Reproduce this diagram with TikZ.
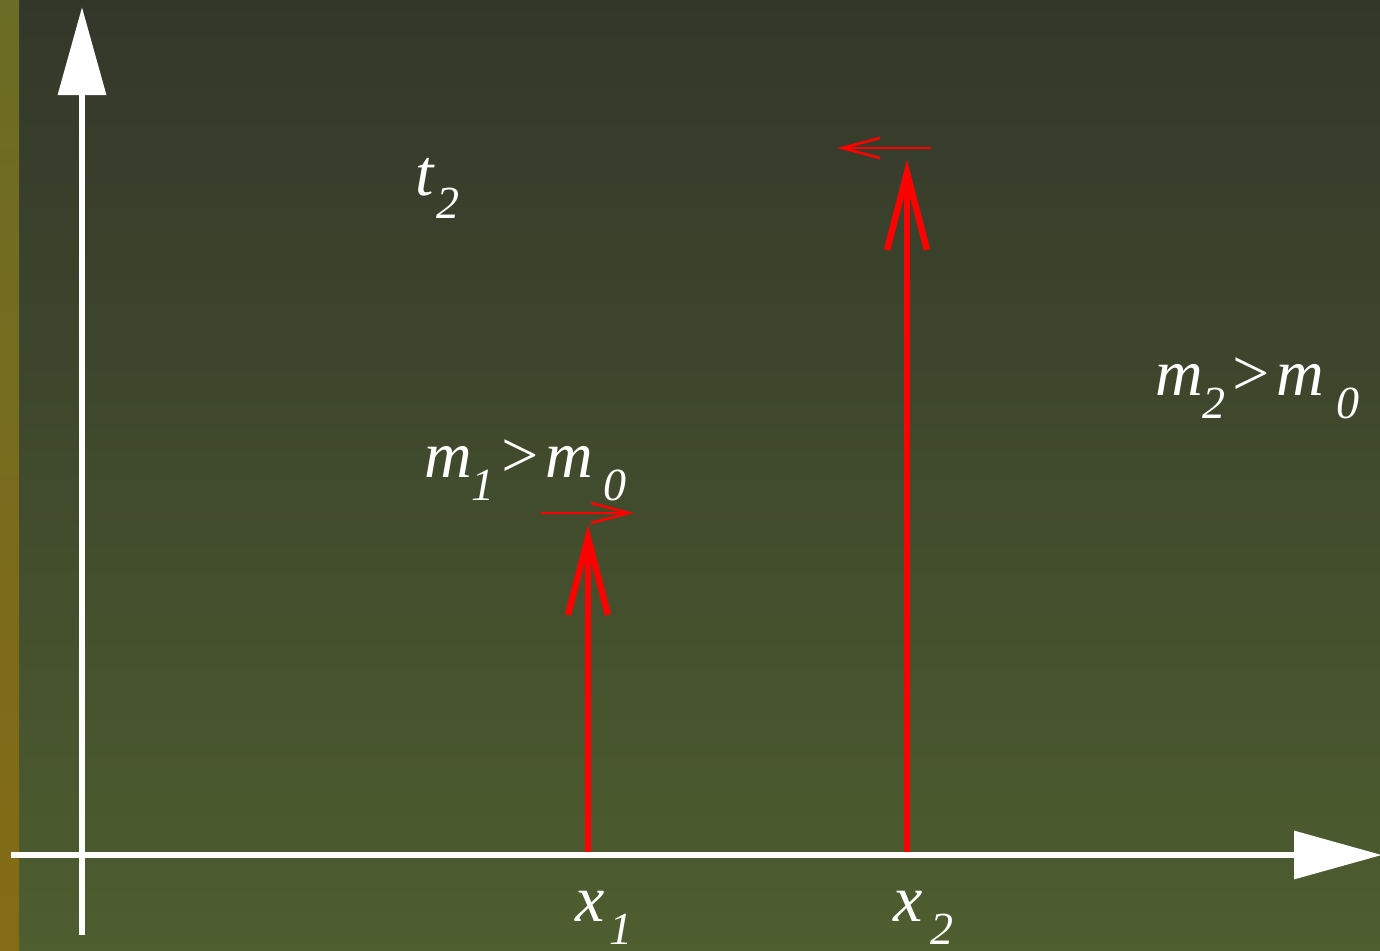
\documentclass[tikz,border=0pt]{standalone}
\usepackage{fontspec}
\setmainfont{Liberation Serif}
\usetikzlibrary{arrows.meta}
\definecolor{bgTop}{HTML}{33372A}
\definecolor{bgBottom}{HTML}{4E5E2F}
\definecolor{stripTop}{HTML}{6B6C25}
\definecolor{stripBottom}{HTML}{856B15}
\newcommand{\lblfont}{\fontsize{66}{70}\selectfont\itshape}
\newcommand{\subfont}{\fontsize{46}{50}\selectfont\itshape}
\newcommand{\lowr}[2][0pt]{\hspace{#1}\raisebox{-23pt}{\subfont #2}}

\begin{document}
\begin{tikzpicture}[x=1pt, y=-1pt,
  axis/.style={white, line width=6.5pt, -{Triangle[length=88pt, width=47pt]}},
  mass/.style={red, line width=6.5pt,
    -{Straight Barb[length=77pt, width=40pt, line join=miter, line cap=butt]}},
  drift/.style={red, line width=2.6pt,
    -{Straight Barb[length=38pt, width=20pt, line join=miter, line cap=butt]}},
  lbl/.style={text=white, inner sep=0pt, anchor=base west, font=\lblfont}
]
\useasboundingbox (0,0) rectangle (1380,950);
% background
\shade[top color=bgTop, bottom color=bgBottom] (0,0) rectangle (1380,950);
\shade[top color=stripTop, bottom color=stripBottom] (0,0) rectangle (19,950);

% axes
\coordinate (tBottom) at (82,935);
\coordinate (tTop) at (82,7);
\coordinate (xLeft) at (11,855);
\coordinate (xRight) at (1382,855);
\draw[axis] (tBottom) -- (tTop);
\draw[axis] (xLeft) -- (xRight);

% masses
\coordinate (x1Foot) at (588,852);
\coordinate (x1Tip) at (588,525);
\coordinate (x2Foot) at (907,852);
\coordinate (x2Tip) at (907,160);
\draw[mass] (x1Foot) -- (x1Tip);
\draw[mass] (x2Foot) -- (x2Tip);

% drift directions
\coordinate (d1Start) at (541,513);
\coordinate (d1End) at (634,513);
\coordinate (d2Start) at (931,148);
\coordinate (d2End) at (837,148);
\draw[drift] (d1Start) -- (d1End);
\draw[drift] (d2Start) -- (d2End);

% labels
\node[lbl] (tLbl) at (415,195) {t\lowr[3pt]{2}};
\node[lbl] (m1Lbl) at (424,477) {m\lowr{1}\hspace{3pt}>\hspace{3pt}m\lowr[10pt]{0}};
\node[lbl] (m2Lbl) at (1155,395) {m\lowr{2}\hspace{3pt}>\hspace{3pt}m\lowr[12pt]{0}};
\node[lbl] (x1Lbl) at (575,921) {x\lowr[5pt]{1}};
\node[lbl] (x2Lbl) at (893,921) {x\lowr[8pt]{2}};
\end{tikzpicture}
\end{document}
